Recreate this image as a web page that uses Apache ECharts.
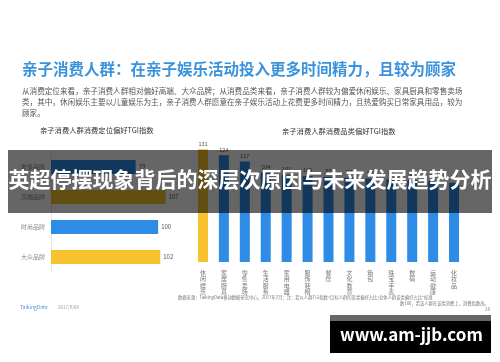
<!DOCTYPE html>
<html>
<head>
<meta charset="utf-8">
<script src="https://cdn.jsdelivr.net/npm/echarts@6/dist/echarts.min.js"></script>
<style>html,body{margin:0;padding:0;background:#fff}#c{width:500px;height:362px}</style>
</head>
<body>
<div id="c"></div>
<script>
const leftCats = ['奢侈品牌', '高端品牌', '时尚品牌', '大众品牌'];
const leftValues = [79, 107, 100, 102];
const leftColors = ['blue', 'yellow', 'blue', 'yellow'];
const rightCats = ['休闲娱乐', '家居厨具', '零售卖场', '生活服务', '家用电器', '服饰鞋帽', '餐饮', '文化教育', '箱包', '珠宝手表', '数码', '运动健康', '化妆品'];
const rightValues = [131, 124, 117, 104, 101, 100, 99, 98, 97, 96, 95, 94, 92];
const rightColors = ['yellow', 'blue', 'blue', 'blue', 'blue', 'blue', 'blue', 'blue', 'blue', 'blue', 'blue', 'blue', 'blue'];

const BLUE = '#2e8be6', YELLOW = '#f8c22f';
const col = c => c === 'yellow' ? YELLOW : BLUE;
const FONT = '"Noto Sans CJK SC", sans-serif';

const chart = echarts.init(document.getElementById('c'), null, {renderer: 'canvas'});
chart.setOption({
  backgroundColor: '#fff',
  animation: false,
  textStyle: {fontFamily: FONT},
  grid: [
    {left: 51, top: 152, width: 150, height: 120},
    {left: 192.5, top: 133, width: 272, height: 129}
  ],
  xAxis: [
    {gridIndex: 0, type: 'value', min: 0, max: 140, show: false},
    {gridIndex: 1, type: 'category', data: rightCats,
     axisLine: {show: false}, axisTick: {show: false},
     axisLabel: {interval: 0, fontSize: 6, lineHeight: 6.5, color: '#777', margin: 7,
       formatter: v => v.split('').join('\n')}}
  ],
  yAxis: [
    {gridIndex: 0, type: 'category', data: leftCats, inverse: true,
     axisLine: {show: true, lineStyle: {color: '#e6e6e6'}}, axisTick: {show: false},
     axisLabel: {fontSize: 6, color: '#888', margin: 6}},
    {gridIndex: 1, type: 'value', min: 0, max: 150, show: false}
  ],
  series: [
    {type: 'bar', xAxisIndex: 0, yAxisIndex: 0, barWidth: 14,
     data: leftValues.map((v, i) => ({value: v, itemStyle: {color: col(leftColors[i])}})),
     label: {show: true, position: 'right', fontSize: 6, color: '#555', distance: 3}},
    {type: 'bar', xAxisIndex: 1, yAxisIndex: 1, barWidth: 10,
     data: rightValues.map((v, i) => ({value: v, itemStyle: {color: col(rightColors[i])}})),
     label: {show: true, position: 'top', fontSize: 5.5, color: '#555', distance: 3}}
  ],
  graphic: [
    {type: 'text', left: 22, top: 61, z: 50, style: {text: '亲子消费人群：在亲子娱乐活动投入更多时间精力，且较为顾家',
      font: 'bold 15.5px ' + FONT, fill: '#3b93dd'}},
    {type: 'text', left: 22, top: 86, z: 50, style: {text:
      '从消费定位来看，亲子消费人群相对偏好高端、大众品牌；从消费品类来看，亲子消费人群较为偏爱休闲娱乐、家具厨具和零售卖场\n类，其中，休闲娱乐主要以儿童娱乐为主，亲子消费人群愿意在亲子娱乐活动上花费更多时间精力，且热爱购买日常家具用品，较为\n顾家。',
      font: '7.6px ' + FONT, lineHeight: 10.8, fill: '#555'}},
    {type: 'text', left: 40, top: 127, z: 50, style: {text: '亲子消费人群消费定位偏好TGI指数', font: '7.3px ' + FONT, fill: '#333'}},
    {type: 'text', left: 282, top: 128, z: 50, style: {text: '亲子消费人群消费品类偏好TGI指数', font: '7.3px ' + FONT, fill: '#333'}},
    {type: 'text', left: 178, top: 295, z: 50, style: {text: '数据来源：TalkingData移动数据研究中心，2017年7月；注：若以人群TGI指数=目标人群的某类偏好占比/总体人群该类偏好占比*标准',
      font: '4.3px ' + FONT, fill: '#777'}},
    {type: 'text', left: 400, top: 301, z: 50, style: {text: '数100，若该人群在该类消费上，消费指数高。', font: '4.3px ' + FONT, fill: '#777'}},
    {type: 'text', left: 485, top: 307, z: 50, style: {text: '28', font: '4.5px ' + FONT, fill: '#888'}},
    {type: 'text', left: 20, top: 305, z: 50, style: {text: 'TalkingData', font: '5px ' + FONT, fill: '#4a90d9'}},
    {type: 'text', left: 58, top: 305, z: 50, style: {text: '2017/9/06', font: '4.5px ' + FONT, fill: '#999'}},
    {type: 'rect', z: 100, shape: {x: 8, y: 150, width: 484, height: 63}, style: {fill: 'rgba(0,0,0,0.6)'}},
    {type: 'text', z: 101, left: 'center', top: 169, style: {text: '英超停摆现象背后的深层次原因与未来发展趋势分析',
      font: 'bold 21px ' + FONT, fill: '#fff'}},
    {type: 'rect', z: 100, shape: {x: 330, y: 315, width: 161, height: 38}, style: {fill: '#000'}},
    {type: 'rect', z: 101, shape: {x: 330, y: 315, width: 161, height: 6}, style: {fill: '#666'}},
    {type: 'text', z: 102, left: 340, top: 326, style: {text: 'www.am-jjb.com', font: 'bold 17px ' + FONT, fill: '#fff'}}
  ]
});
</script>
</body>
</html>
